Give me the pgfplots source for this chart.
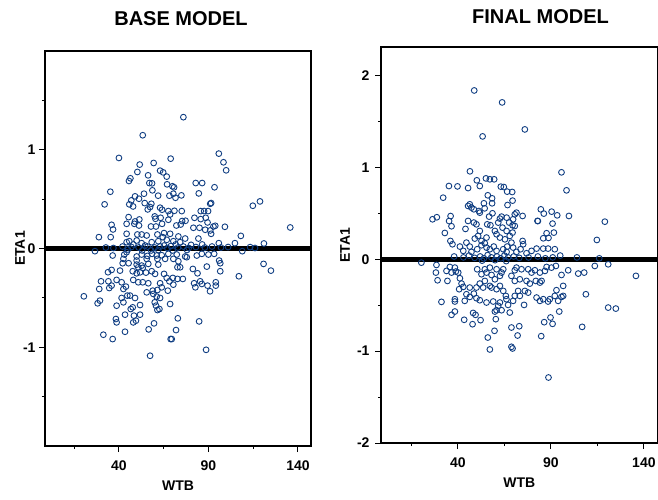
\documentclass[border=0pt]{standalone}
\usepackage{fontspec}
\setmainfont{Liberation Sans}
\usepackage{pgfplots}
\usepackage{pgfplotstable}
\pgfplotsset{compat=1.18}
\definecolor{mk}{RGB}{16,62,130}

\pgfplotstableread{
x y
76.0 1.33
53.3 1.147
40.0 0.917
95.8 0.961
98.4 0.873
99.9 0.792
68.9 0.91
59.4 0.866
51.6 0.85
50.3 0.775
56.3 0.741
63.0 0.788
64.7 0.771
66.7 0.728
46.4 0.711
45.6 0.684
57.0 0.663
58.5 0.66
58.7 0.589
66.9 0.65
69.9 0.63
70.8 0.62
82.9 0.663
86.5 0.663
84.6 0.558
93.4 0.62
35.2 0.575
32.0 0.447
49.0 0.528
54.0 0.555
61.9 0.535
68.2 0.535
70.4 0.555
71.6 0.514
74.9 0.538
46.9 0.487
51.2 0.504
54.4 0.46
58.1 0.453
45.8 0.447
47.9 0.426
56.1 0.396
57.4 0.42
63.0 0.413
64.1 0.393
67.6 0.379
71.0 0.382
75.1 0.379
91.0 0.453
91.5 0.46
85.7 0.379
87.6 0.379
89.8 0.379
114.8 0.433
118.8 0.477
135.7 0.213
45.4 0.318
51.4 0.294
49.0 0.274
60.0 0.325
60.4 0.301
63.3 0.311
67.6 0.291
68.6 0.345
75.3 0.278
77.2 0.281
82.2 0.311
85.7 0.298
88.5 0.311
89.5 0.264
92.8 0.223
93.8 0.23
99.2 0.22
35.9 0.24
36.7 0.193
44.3 0.25
48.6 0.25
51.2 0.233
57.9 0.223
60.7 0.223
64.1 0.25
72.1 0.233
74.5 0.243
81.6 0.21
85.0 0.21
88.2 0.19
91.0 0.183
28.8 0.115
35.4 0.115
44.3 0.149
50.3 0.142
52.7 0.142
55.5 0.132
61.5 0.142
65.2 0.156
68.6 0.149
73.2 0.122
77.0 0.101
84.4 0.101
91.5 0.149
108.1 0.128
104.8 0.054
121.0 0.051
45.8 0.074
49.9 0.081
52.7 0.054
58.3 0.064
62.0 0.074
64.5 0.115
66.7 0.088
70.4 0.074
74.2 0.064
80.3 0.037
86.5 0.041
95.8 0.054
44.3 0.064
48.0 0.041
54.6 0.03
65.2 0.03
71.7 0.041
113.3 0.014
36.9 0.005
32.7 0.01
42.0 0.02
47.0 0.015
51.0 0.01
56.0 0.02
60.0 0.01
63.0 0.02
67.0 0.005
69.0 0.025
73.0 0.01
76.0 0.02
79.0 0.005
83.0 0.015
88.0 0.01
92.0 0.02
97.0 0.01
101.0 0.015
58.0 -0.02
62.0 -0.015
53.0 -0.02
45.0 -0.01
70.0 -0.02
78.0 -0.015
116.0 0.005
26.6 -0.027
36.5 -0.071
43.0 -0.061
44.3 -0.037
49.9 -0.081
52.7 -0.061
55.9 -0.075
58.5 -0.054
61.1 -0.071
63.9 -0.068
67.6 -0.054
72.3 -0.061
77.0 -0.081
83.5 -0.071
86.3 -0.054
90.0 -0.061
93.2 -0.054
108.9 -0.027
42.5 -0.105
49.9 -0.122
55.5 -0.105
61.5 -0.105
65.8 -0.105
70.4 -0.105
77.9 -0.088
96.0 -0.122
96.6 -0.149
120.8 -0.156
124.9 -0.224
42.1 -0.149
45.4 -0.149
49.9 -0.163
52.7 -0.173
56.4 -0.156
62.0 -0.163
73.2 -0.129
74.2 -0.19
72.7 -0.19
81.3 -0.207
89.1 -0.183
50.8 -0.19
53.3 -0.196
33.9 -0.24
35.9 -0.217
40.6 -0.224
47.7 -0.23
49.9 -0.251
51.8 -0.241
55.1 -0.244
58.3 -0.23
60.2 -0.257
65.2 -0.257
66.7 -0.298
70.1 -0.298
72.7 -0.308
75.7 -0.308
83.9 -0.251
96.6 -0.23
107.0 -0.281
30.0 -0.332
34.1 -0.332
38.7 -0.318
41.5 -0.342
48.0 -0.318
50.8 -0.342
53.3 -0.342
56.4 -0.352
63.0 -0.352
68.2 -0.332
70.4 -0.366
82.0 -0.352
85.4 -0.332
86.3 -0.359
89.5 -0.376
94.1 -0.342
94.1 -0.376
29.0 -0.41
34.6 -0.4
35.9 -0.376
42.5 -0.41
43.9 -0.386
55.5 -0.444
58.9 -0.427
61.5 -0.42
63.9 -0.393
67.3 -0.427
82.7 -0.393
90.9 -0.433
20.4 -0.484
28.1 -0.555
29.4 -0.528
44.7 -0.477
46.2 -0.477
41.5 -0.501
49.0 -0.501
59.2 -0.46
61.1 -0.487
63.0 -0.501
38.7 -0.579
42.5 -0.545
51.8 -0.572
60.0 -0.545
60.7 -0.579
61.5 -0.623
62.6 -0.613
68.6 -0.562
46.6 -0.613
47.7 -0.596
43.4 -0.67
48.4 -0.68
51.8 -0.67
38.3 -0.714
38.7 -0.748
48.0 -0.748
49.5 -0.731
59.6 -0.758
72.9 -0.707
84.8 -0.738
71.9 -0.826
31.3 -0.873
36.5 -0.917
43.4 -0.843
56.6 -0.819
68.9 -0.917
69.5 -0.917
88.7 -1.026
57.4 -1.086
}\basetable

\pgfplotstableread{
x y
48.8 1.837
63.8 1.707
53.3 1.337
76.0 1.413
46.5 0.957
95.7 0.946
98.4 0.75
50.2 0.859
55.1 0.88
57.2 0.87
59.5 0.87
35.2 0.797
39.8 0.793
45.5 0.775
51.8 0.797
63.1 0.79
64.7 0.786
66.5 0.736
69.2 0.732
32.1 0.67
56.1 0.696
58.4 0.663
58.4 0.609
69.4 0.638
66.7 0.59
45.5 0.58
46.4 0.598
47.3 0.562
48.6 0.544
51.3 0.525
51.8 0.507
54.0 0.609
54.4 0.554
84.6 0.543
86.2 0.497
90.4 0.518
93.4 0.478
99.7 0.471
83.0 0.416
90.9 0.388
119.0 0.409
114.7 0.21
26.4 0.435
28.7 0.457
35.3 0.416
36.1 0.47
36.6 0.359
33.0 0.286
44.1 0.33
45.5 0.417
36.0 0.199
37.1 0.163
48.6 0.399
50.0 0.38
51.8 0.308
50.9 0.254
49.1 0.225
52.7 0.199
55.4 0.236
54.5 0.174
56.8 0.464
58.6 0.5
55.8 0.38
57.5 0.37
62.6 0.442
63.5 0.464
66.2 0.453
61.7 0.399
64.0 0.344
66.2 0.308
59.9 0.308
60.8 0.272
62.6 0.236
65.3 0.217
67.9 0.254
69.4 0.29
70.6 0.362
69.7 0.435
70.6 0.489
71.5 0.507
67.6 0.399
69.4 0.37
74.8 0.471
82.8 0.417
87.7 0.283
91.6 0.29
85.9 0.228
88.7 0.232
74.8 0.199
75.1 0.163
73.7 0.109
82.3 0.116
85.9 0.116
88.5 0.116
92.1 0.109
41.1 0.138
44.6 0.181
46.4 0.138
42.9 0.091
47.3 0.08
50.4 0.109
52.7 0.152
55.4 0.127
57.2 0.109
59.3 0.138
60.8 0.091
64.4 0.109
66.5 0.138
68.8 0.181
69.7 0.127
71.5 0.08
76.9 0.065
79.6 0.091
66.2 0.08
38.0 0.03
43.0 0.02
46.0 0.04
49.0 0.015
52.0 0.03
54.0 0.01
56.0 0.045
58.0 0.02
61.0 0.03
63.0 0.01
65.0 0.04
67.0 0.02
70.0 0.03
73.0 0.015
78.0 0.02
83.0 0.03
87.0 0.01
91.0 0.02
95.0 0.04
104.0 0.02
116.0 0.01
60.0 -0.01
53.0 -0.015
66.0 -0.02
20.4 -0.037
28.5 -0.062
28.2 -0.145
29.1 -0.229
34.4 -0.236
33.9 -0.127
35.7 -0.084
36.6 -0.145
38.9 -0.134
40.2 -0.145
38.4 -0.091
41.1 -0.207
42.0 -0.265
42.9 -0.301
40.7 -0.326
44.6 -0.381
43.7 -0.453
46.4 -0.41
50.0 -0.424
51.8 -0.446
48.6 -0.374
46.4 -0.308
50.0 -0.308
51.8 -0.265
53.6 -0.308
54.5 -0.236
52.7 -0.163
50.4 -0.109
54.5 -0.109
57.2 -0.091
55.4 -0.145
58.1 -0.171
59.9 -0.218
62.6 -0.181
63.5 -0.145
64.4 -0.109
60.8 -0.109
58.1 -0.308
57.2 -0.29
60.8 -0.326
62.6 -0.29
64.4 -0.345
65.8 -0.399
66.1 -0.435
62.6 -0.471
61.7 -0.507
60.8 -0.555
59.9 -0.569
63.5 -0.555
67.0 -0.497
67.9 -0.58
69.7 -0.453
70.6 -0.399
72.4 -0.345
73.3 -0.399
76.0 -0.345
77.8 -0.363
78.7 -0.265
76.9 -0.236
73.3 -0.218
70.6 -0.236
68.8 -0.181
70.6 -0.12
71.5 -0.091
74.2 -0.109
77.8 -0.109
79.6 -0.145
81.9 -0.236
84.1 -0.254
85.0 -0.236
82.3 -0.417
84.1 -0.453
85.9 -0.435
88.5 -0.46
89.4 -0.435
92.1 -0.399
93.9 -0.453
94.5 -0.569
93.0 -0.337
96.6 -0.29
95.7 -0.41
96.6 -0.399
95.7 -0.171
99.3 -0.12
92.7 -0.073
90.3 -0.091
87.7 -0.084
86.8 -0.127
84.1 -0.145
81.4 -0.12
104.7 -0.156
107.9 -0.145
113.6 -0.073
120.8 -0.055
108.8 -0.381
120.8 -0.526
124.9 -0.537
135.7 -0.181
31.2 -0.464
38.4 -0.435
38.4 -0.46
36.6 -0.605
38.4 -0.569
43.4 -0.659
48.2 -0.584
49.5 -0.605
52.2 -0.663
47.9 -0.707
60.4 -0.652
56.1 -0.852
57.2 -0.982
59.7 -0.779
68.8 -0.743
73.0 -0.729
72.1 -0.83
68.8 -0.953
69.4 -0.971
84.8 -0.837
86.4 -0.685
89.8 -0.634
90.9 -0.703
106.8 -0.736
88.7 -1.287
75.6 -0.497
55.4 -0.471
59.0 -0.46
}\finaltable

\pgfplotsset{
  panel/.style={
    scale only axis,
    anchor=south west,
    axis line style={line width=1.3pt},
    xmin=-1.3, xmax=147.3,
    xtick={40,90,140},
    minor xtick={15,65,115},
    minor ytick={-1.5,-0.5,0.5,1.5},
    tick align=outside,
    xtick pos=left, ytick pos=left,
    major tick length=6pt, minor tick length=3pt,
    every tick/.style={black, line width=1pt},
    tick label style={font=\fontsize{14}{15}\selectfont\bfseries},
    xticklabel style={yshift=-5pt},
    /pgf/number format/assume math mode=true,
    label style={font=\fontsize{14}{15}\selectfont\bfseries},
    xlabel=WTB, ylabel=ETA1,
    xlabel style={at={(axis description cs:0.5,0)}, anchor=center, yshift=-40pt},
  },
  pts/.style={only marks, mark=o, mark size=2.9pt, mark options={draw=mk, line width=0.9pt}},
}

\begin{document}
\begin{tikzpicture}
\useasboundingbox (0,0) rectangle (658pt,499pt);
\begin{axis}[panel, at={(45pt,53pt)}, width=266pt, height=395pt,
  ymin=-2, ymax=2, ytick={-1,0,1},
  ylabel style={at={(axis description cs:-0.094,0.5)}, anchor=center}]
\addplot[pts] table[x=x,y=y] {\basetable};
\addplot[black, line width=5pt] coordinates {(-1.3,0) (147.3,0)};
\end{axis}
\begin{axis}[panel, at={(381pt,56pt)}, width=276.5pt, height=396pt,
  ymin=-2, ymax=2.31, ytick={-2,-1,0,1,2},
  yticklabel style={xshift=-2pt},
  ylabel style={at={(axis description cs:-0.130,0.5)}, anchor=center}]
\addplot[pts] table[x=x,y=y] {\finaltable};
\addplot[black, line width=5pt] coordinates {(-1.3,0) (147.3,0)};
\end{axis}
\node[font=\fontsize{20}{24}\selectfont\bfseries] at (181pt,480pt) {BASE MODEL};
\node[font=\fontsize{20}{24}\selectfont\bfseries] at (540.5pt,482pt) {FINAL MODEL};
\end{tikzpicture}
\end{document}
